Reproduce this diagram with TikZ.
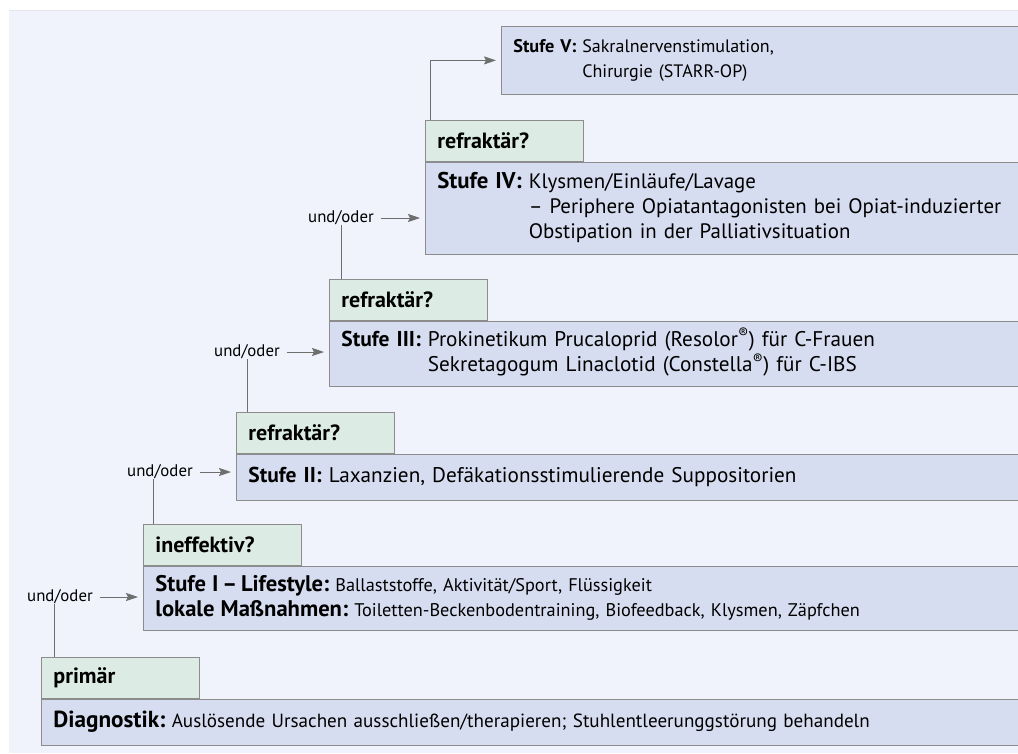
\documentclass[tikz,border=0pt]{standalone}
\usepackage{fontspec}
\setmainfont{PT Sans}
\usetikzlibrary{arrows.meta}
\frenchspacing
\definecolor{bgblue}{HTML}{F0F3FB}
\definecolor{boxblue}{HTML}{D7DDF0}
\definecolor{hdrgreen}{HTML}{DCECE4}
\definecolor{rimgray}{HTML}{8C8C8C}
\definecolor{arrowgray}{HTML}{6E6E6E}
\newcommand\stb[2][21.5]{{\fontsize{#1}{25}\selectfont\bfseries #2}}
\newcommand\fsz[1]{\fontsize{#1}{25}\selectfont}

\begin{document}
\begin{tikzpicture}[x=1pt,y=-1pt,
  hdr/.style={rectangle,draw=rimgray,fill=hdrgreen,line width=0.8pt,anchor=north west,
    text width=134pt,inner xsep=12pt,inner ysep=0pt,minimum height=41pt,align=left,
    font=\fontsize{22}{25}\selectfont\bfseries},
  stufe/.style={rectangle,draw=rimgray,fill=boxblue,line width=0.8pt,anchor=north west,
    text width=#1,inner xsep=12pt,inner ysep=0pt,align=left},
  oder/.style={font=\fontsize{16.8}{18}\selectfont,inner sep=3pt},
  link/.style={draw=arrowgray,line width=0.8pt},
  pfeil/.style={link,-{Stealth[length=12pt,width=8pt,inset=2pt]},shorten >=5pt,shorten <=4pt}]
\useasboundingbox (0,0) rectangle (1018,753);
\fill[bgblue] (9,10) rectangle (1018,753);
\draw[color=black!10] (9,10) -- (1018,10);

% primaer
\node[hdr] (hdrP) at (41,657) {primär};
\node[stufe=965pt,minimum height=46pt,font=\fsz{19.1}] (diag) at (hdrP.south west)
  {\stb[23.2]{Diagnostik:} Auslösende Ursachen ausschließen/therapieren; Stuhlentleerunggstörung behandeln};

% Stufe I
\node[hdr] (hdrI) at (143,524) {ineffektiv?};
\node[stufe=863pt,minimum height=64pt,font=\fsz{18.3}] (stufeI) at (hdrI.south west)
  {\stb[22.6]{Stufe I\,–\,Lifestyle:} Ballaststoffe, Aktivität/Sport, Flüssigkeit\\
   \stb[22.6]{lokale Maßnahmen:} Toiletten-Beckenbodentraining, Biofeedback, Klysmen, Zäpfchen};

% Stufe II
\node[hdr] (hdrII) at (236,412) {refraktär?};
\node[stufe=770pt,minimum height=46pt,font=\fsz{21.2}] (stufeII) at (hdrII.south west)
  {\stb{Stufe II:} Laxanzien, Defäkationsstimulierende Suppositorien};

% Stufe III
\node[hdr] (hdrIII) at (329,279) {refraktär?};
\node[stufe=677pt,minimum height=65pt,font=\fsz{21.2}] (stufeIII) at (hdrIII.south west)
  {\begin{tabular}{@{}l@{\ }l@{}}
   \stb{Stufe III:} & Prokinetikum Prucaloprid (Resolor\textsuperscript{®}) für C-Frauen\\
   & Sekretagogum Linaclotid (Constella\textsuperscript{®}) für C-IBS
   \end{tabular}};

% Stufe IV
\node[hdr] (hdrIV) at (425,120) {refraktär?};
\node[stufe=581pt,minimum height=92pt,font=\fsz{20.9}] (stufeIV) at (hdrIV.south west)
  {\begin{tabular}{@{}l@{\ }l@{}}
   \stb[22.8]{Stufe IV:} & Klysmen/Einläufe/Lavage\\
   & – Periphere Opiatantagonisten bei Opiat-induzierter\\
   & Obstipation in der Palliativsituation
   \end{tabular}};

% Stufe V
\node[stufe=505pt,minimum height=68pt,font=\fsz{18}] (stufeV) at (501,26)
  {\begin{tabular}{@{}l@{\ }l@{}}
   \stb[18.3]{Stufe V:} & Sakralnervenstimulation,\\
   & Chirurgie (STARR-OP)
   \end{tabular}};

% und/oder
\node[oder] (uoI) at (60,597) {und/oder};
\node[oder] (uoII) at (160,472) {und/oder};
\node[oder] (uoIII) at (247,352) {und/oder};
\node[oder] (uoIV) at (341,218) {und/oder};

\draw[pfeil] (uoI.east) -- (uoI.east -| stufeI.west);
\draw[pfeil] (uoII.east) -- (uoII.east -| stufeII.west);
\draw[pfeil] (uoIII.east) -- (uoIII.east -| stufeIII.west);
\draw[pfeil] (uoIV.east) -- (uoIV.east -| stufeIV.west);

\draw[link] ([xshift=-6pt,yshift=3pt]uoI.south) -- ([xshift=-6pt]uoI.south |- hdrP.north);
\draw[link] ([xshift=-7pt,yshift=3pt]uoII.south) -- ([xshift=-7pt]uoII.south |- hdrI.north);
\draw[link] ([yshift=3pt]uoIII.south) -- (uoIII.south |- hdrII.north);
\draw[link] ([yshift=3pt]uoIV.south) -- (uoIV.south |- hdrIII.north);

\draw[pfeil,shorten <=0pt] ([xshift=5pt]hdrIV.north west) |- (stufeV.west);
\end{tikzpicture}
\end{document}
